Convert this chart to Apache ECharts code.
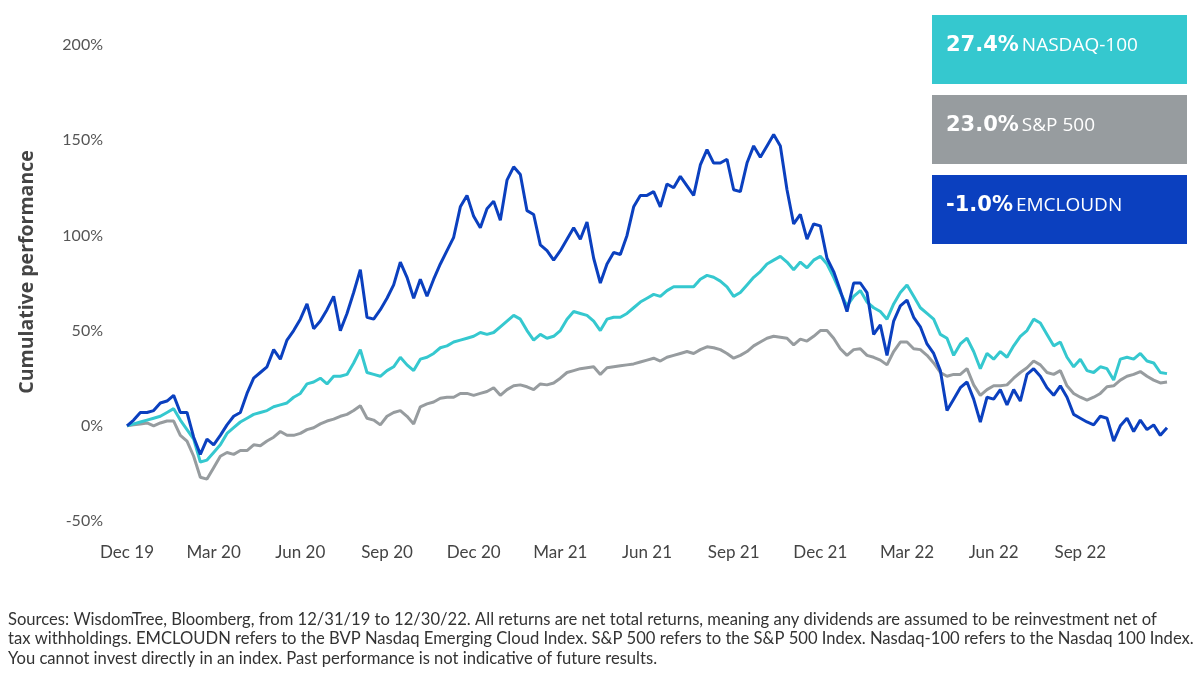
<!DOCTYPE html>
<html>
<head>
<meta charset="utf-8">
<script src="https://cdn.jsdelivr.net/npm/echarts@6/dist/echarts.min.js"></script>
<style>
  html, body { margin: 0; padding: 0; background: #fff; }
  #chart { width: 1200px; height: 681px; }
</style>
</head>
<body>
<div id="chart"></div>
<script>
// weekly points, 12/31/19 .. 12/30/22
var tickLabels = ['Dec 19', 'Mar 20', 'Jun 20', 'Sep 20', 'Dec 20', 'Mar 21',
                  'Jun 21', 'Sep 21', 'Dec 21', 'Mar 22', 'Jun 22', 'Sep 22'];

var emcloudn = [0, 3, 7, 7, 8, 12, 13, 16, 7, 7,
  -6, -15, -7, -10, -5, 0.5, 5, 7, 17, 25,
  28, 31, 40, 35, 45, 50, 56, 64, 51, 55,
  61, 68, 50, 59, 70, 82, 57, 56, 61, 67,
  74, 86, 78, 67, 77, 68, 77, 85, 92, 99,
  115, 121, 110, 104, 114, 118, 108, 129, 136, 132,
  113, 111, 95, 92, 87, 92, 98, 104, 98, 107,
  88, 75, 85, 91, 90, 100, 115, 121, 121, 123,
  115, 127, 125, 131, 126, 121, 137, 145, 138, 138,
  140, 124, 123, 138, 147, 141, 147, 153, 147, 124,
  106, 111, 98, 106, 105, 88, 81, 71, 60, 75,
  75, 70, 48, 53, 37, 55, 63, 66, 57, 52,
  43, 38, 29, 8, 14, 20, 23, 14, 2, 15,
  14, 19, 11, 19, 13, 27, 30, 26, 20, 16,
  21, 15, 6, 4, 2, 0.5, 5, 4, -8, 0,
  4, -3, 3, -2, 0.5, -5, -1.0];

var nasdaq = [0, 1, 2, 3, 4, 5, 7, 9, 3, -2,
  -7, -19, -18, -14, -10, -4, -1, 2, 4, 6,
  7, 8, 10, 11, 12, 15, 17, 22, 23, 25,
  22, 26, 26, 27, 33, 40, 28, 27, 26, 29,
  31, 36, 32, 29, 35, 36, 38, 41, 42, 44,
  45, 46, 47, 49, 48, 49, 52, 55, 58, 56,
  50, 45, 48, 46, 47, 50, 56, 60, 59, 58,
  55, 50, 56, 57, 57, 59, 62, 65, 67, 69,
  68, 71, 73, 73, 73, 73, 77, 79, 78, 76,
  73, 68, 70, 74, 78, 81, 85, 87, 89, 86,
  82, 86, 83, 87, 89, 85, 78, 70, 63, 68,
  71, 65, 62, 60, 56, 64, 70, 74, 68, 62,
  59, 56, 48, 46, 37, 43, 46, 39, 30, 38,
  35, 39, 36, 42, 47, 50, 56, 54, 48, 42,
  44, 36, 31, 35, 29, 28, 31, 30, 24, 35,
  36, 35, 38, 34, 33, 28, 27.4];

var sp500 = [0, 0.5, 1, 1.5, 0, 1.5, 2.5, 2.5, -5, -8,
  -16, -27, -28, -22, -16, -14, -15, -13, -13, -10,
  -10.5, -8, -6, -3, -5, -5, -4, -2, -1, 1,
  2.5, 3.5, 5, 6, 8, 10.5, 4, 3, 0.5, 5,
  7, 8, 5, 1, 10, 11.5, 12.5, 14.5, 15, 15,
  17, 17, 16, 17, 18, 20, 16, 19, 21, 21.5,
  20.5, 19, 22, 21.5, 22.5, 25, 28, 29, 30, 30.5,
  31, 27, 30.5, 31, 31.5, 32, 32.5, 33.5, 34.5, 35.5,
  34, 36, 37, 38, 39, 38, 40, 41.5, 41, 40,
  38, 35.5, 37, 39, 42, 44, 46, 47, 46.5, 46,
  42.5, 45.5, 44.5, 47, 50, 50, 46, 40.5, 37, 40,
  40.5, 37, 36, 34.5, 32, 39, 44, 44, 40.5, 40,
  37, 33, 28, 26, 27, 27, 30, 21.5, 16, 19,
  21, 21, 21.5, 25, 28, 30.5, 34, 32, 28, 27,
  29, 21, 17, 15, 13.5, 15, 17, 20.5, 21, 24,
  26, 27, 28.5, 26, 24, 22.5, 23.0];

var weeks = [];
var d0 = new Date(2019, 11, 31);
for (var i = 0; i < emcloudn.length; i++) {
    var d = new Date(d0.getTime() + i * 7 * 86400000);
    weeks.push((d.getMonth() + 1) + '/' + d.getDate() + '/' + d.getFullYear());
}

var C_BLUE = '#0b40bf', C_CYAN = '#35c8cf', C_GRAY = '#979c9f';
var FONT = 'Lato';

var chart = echarts.init(document.getElementById('chart'));

var option = {
    animation: false,
    backgroundColor: '#fff',
    grid: { left: 127, right: 33, top: 45, bottom: 160, containLabel: false },
    xAxis: {
        type: 'category',
        data: weeks,
        boundaryGap: false,
        axisLine: { show: false },
        axisTick: { show: false },
        splitLine: { show: false },
        axisLabel: {
            color: '#444',
            fontSize: 17,
            fontFamily: FONT,
            margin: 23,
            interval: function (idx) { return idx % 13 === 0 && idx < 156; },
            formatter: function (val, idx) { return tickLabels[idx / 13] || ''; }
        }
    },
    yAxis: {
        type: 'value',
        min: -50,
        max: 200,
        interval: 50,
        axisLine: { show: false },
        axisTick: { show: false },
        splitLine: { show: false },
        axisLabel: {
            color: '#555',
            fontSize: 16,
            fontFamily: FONT,
            margin: 24,
            formatter: '{value}%'
        }
    },
    series: [
        {
            name: 'S&P 500', type: 'line', data: sp500, showSymbol: false,
            lineStyle: { color: C_GRAY, width: 3 }, itemStyle: { color: C_GRAY }
        },
        {
            name: 'NASDAQ-100', type: 'line', data: nasdaq, showSymbol: false,
            lineStyle: { color: C_CYAN, width: 3 }, itemStyle: { color: C_CYAN }
        },
        {
            name: 'EMCLOUDN', type: 'line', data: emcloudn, showSymbol: false,
            lineStyle: { color: C_BLUE, width: 3 }, itemStyle: { color: C_BLUE }
        }
    ],
    graphic: [
        {
            // y axis title
            type: 'text', x: 27, y: 272, rotation: Math.PI / 2,
            style: {
                text: 'Cumulative performance', fill: '#444',
                fontSize: 19.5, fontWeight: 'bold', fontFamily: 'Open Sans',
                align: 'center', verticalAlign: 'middle'
            }
        }
    ]
};

// legend boxes, top right
var boxes = [
    { top: 15, color: C_CYAN, pct: '27.4%', name: 'NASDAQ-100' },
    { top: 95, color: C_GRAY, pct: '23.0%', name: 'S&P 500' },
    { top: 175, color: C_BLUE, pct: '-1.0%', name: 'EMCLOUDN' }
];
boxes.forEach(function (b) {
    option.graphic.push({
        type: 'rect', left: 932, top: b.top,
        shape: { width: 255, height: 69 },
        style: { fill: b.color }
    });
    option.graphic.push({
        type: 'text', left: 946, top: b.top + 20,
        style: {
            text: '{p|' + b.pct + '}{n|' + b.name + '}',
            rich: {
                p: { fill: '#fff', fontSize: 21, fontWeight: 'bold', fontFamily: 'DejaVu Sans', padding: [0, 3, 0, 0] },
                n: { fill: '#fff', fontSize: 19, fontFamily: 'Open Sans' }
            }
        }
    });
});

// source note
var notes = [
    'Sources: WisdomTree, Bloomberg, from 12/31/19 to 12/30/22. All returns are net total returns, meaning any dividends are assumed to be reinvestment net of',
    'tax withholdings. EMCLOUDN refers to the BVP Nasdaq Emerging Cloud Index. S&P 500 refers to the S&P 500 Index. Nasdaq-100 refers to the Nasdaq 100 Index.',
    'You cannot invest directly in an index. Past performance is not indicative of future results.'
];
notes.forEach(function (t, k) {
    option.graphic.push({
        type: 'text', left: 8, top: 611 + k * 19.5,
        style: { text: t, fill: '#333', fontSize: 16.6, fontFamily: FONT }
    });
});

chart.setOption(option);
</script>
</body>
</html>
